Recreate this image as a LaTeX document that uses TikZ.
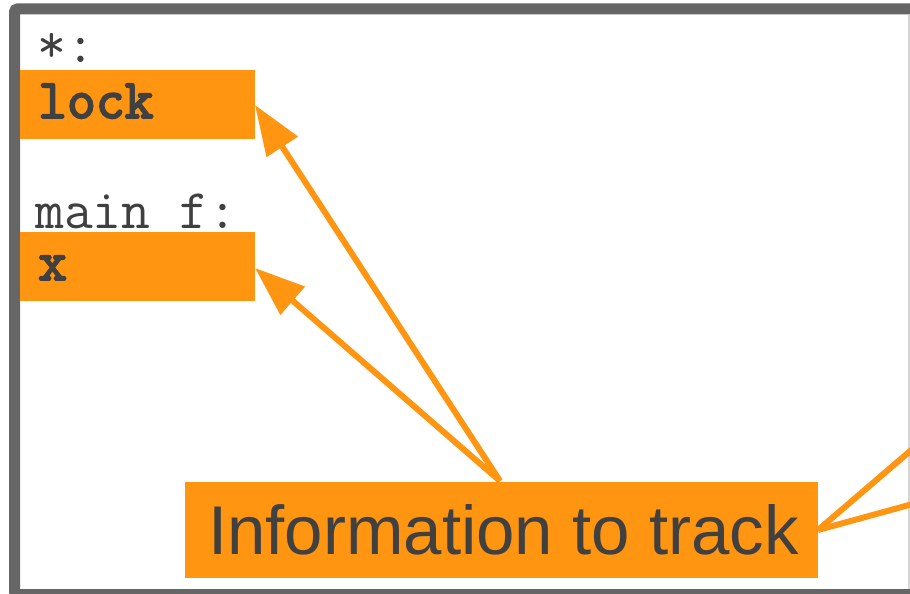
\documentclass[tikz,border=0pt]{standalone}
\usepackage{fontspec}
\setmainfont{Liberation Sans}
\newfontfamily\codebold{Latin Modern Mono}[FakeBold=3.5]
\usetikzlibrary{arrows.meta}
\definecolor{accent}{RGB}{255,149,17}
\definecolor{framegray}{RGB}{102,102,102}
\definecolor{inkgray}{RGB}{64,64,64}
\definecolor{edgegray}{RGB}{214,214,214}
\tikzset{
  varbox/.style={fill=accent, draw=none, minimum width=235pt, minimum height=69pt,
    inner sep=0pt, anchor=north west},
  vartext/.style={font=\codebold\fontsize{56}{56}\selectfont, text=inkgray,
    inner sep=0pt, anchor=base west},
  scopelabel/.style={font=\ttfamily\fontsize{56}{56}\selectfont, text=inkgray,
    inner sep=0pt, anchor=base west},
  infobox/.style={fill=accent, draw=none, minimum width=633pt, minimum height=96pt,
    inner sep=0pt, anchor=north west},
  pointer/.style={draw=accent, line width=6pt,
    -{Triangle[length=50pt,width=36pt]}},
  offlink/.style={draw=accent, line width=6pt}
}
\begin{document}
\begin{tikzpicture}[x=1pt,y=-1pt]
  \useasboundingbox (0,0) rectangle (910,594);
  \clip (0,0) rectangle (910,594);
  \fill[white] (0,0) rectangle (910,594);

  % right page edge
  \draw[edgegray, line width=2pt] (908.5,15) -- (908.5,589);
  % outer frame, continuing past the right and bottom edges
  \draw[framegray, line width=11pt, rounded corners=3pt]
    (1000,9) -- (14.5,9) -- (14.5,594.5) -- (1000,594.5);

  % global scope
  \node[scopelabel] (glabel) at (37,63) {*:};
  \node[varbox] (lockbox) at (20,70) {};
  \node[vartext] (locktext) at (38,118) {lock};

  % main frame scope
  \node[scopelabel] (mlabel) at (35,228) {main f:};
  \node[varbox] (xbox) at (20,232) {};
  \node[vartext] (xtext) at (38,280) {x};

  % caption box
  \node[infobox] (info) at (185,481.5) {};
  \node[font=\fontsize{69}{69}\selectfont, text=inkgray, inner sep=0pt, anchor=base west]
    (infotext) at (208,554) {Information to track};

  \coordinate (fork) at (500,481);
  \coordinate (lockpt) at (255,105);
  \coordinate (xpt) at (255,268);
  \draw[pointer] (fork) -- (lockpt);
  \draw[pointer] (fork) -- (xpt);

  % links leaving to the right
  \coordinate (rfork) at (818,530);
  \coordinate (offA) at (1000,374);
  \coordinate (offB) at (1000,480);
  \draw[offlink] (rfork) -- (offA);
  \draw[offlink] (rfork) -- (offB);
\end{tikzpicture}
\end{document}
